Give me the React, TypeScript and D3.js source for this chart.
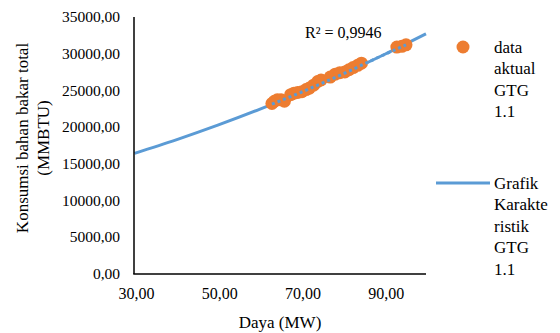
import React from "react";
import * as d3 from "d3";

// Actual data GTG 1.1
const dayaAktual = [63.0, 63.6, 64.3, 65.2, 66.0, 67.5, 68.3, 69.2, 70.2, 71.2, 72.0, 73.0, 74.0, 74.8, 77.0, 78.2, 79.3, 80.5, 81.5, 82.5, 83.6, 84.5, 93.0, 94.2, 95.2];
const konsumsiAktual = [23200, 23500, 23700, 23700, 23500, 24400, 24600, 24700, 24800, 25100, 25300, 25700, 26200, 26400, 26800, 27200, 27400, 27500, 27800, 28100, 28400, 28700, 30900, 31000, 31200];

// Characteristic curve GTG 1.1
const karakteristikDaya = [30, 40, 50, 60, 70, 80, 90, 100];
const karakteristikKonsumsi = [16400, 18240, 20240, 22400, 24730, 27220, 29880, 32700];

// Trendline over actual data range
const trendDaya = [63.0, 70, 80, 90, 95.2];
const trendKonsumsi = [23100, 24730, 27220, 29880, 31200];

const xTicks = [30, 50, 70, 90];
const yTicks = [0, 5000, 10000, 15000, 20000, 25000, 30000, 35000];

const fmt = (v: number) => v.toFixed(2).replace(".", ",");

const W = 560;
const H = 333;
const font = '"Liberation Serif", "DejaVu Serif", "Times New Roman", serif';
const orange = "#ED7D31";
const blue = "#5B9BD5";

export default function App() {
  const x = d3.scaleLinear().domain([30, 100]).range([134.5, 426]);
  const y = d3.scaleLinear().domain([0, 35000]).range([273.5, 17]);

  const line = d3
    .line<[number, number]>()
    .x((d) => x(d[0]))
    .y((d) => y(d[1]))
    .curve(d3.curveMonotoneX);

  const karPts: [number, number][] = karakteristikDaya.map((d, i) => [d, karakteristikKonsumsi[i]]);
  const trendPts: [number, number][] = trendDaya.map((d, i) => [d, trendKonsumsi[i]]);
  const ts = { fontFamily: font };

  return (
    <svg
      width={W}
      height={H}
      style={{ position: "absolute", left: 0, top: 0, background: "#fff", fontFamily: font }}
    >
      {/* Characteristic line */}
      <path d={line(karPts) || ""} fill="none" stroke={blue} strokeWidth={3} />
      {/* Actual data points */}
      {dayaAktual.map((d, i) => (
        <circle key={i} cx={x(d)} cy={y(konsumsiAktual[i])} r={6.5} fill={orange} />
      ))}
      {/* Trendline dotted */}
      <path d={line(trendPts) || ""} fill="none" stroke={blue} strokeWidth={3} strokeDasharray="3,3" />

      {/* Axes */}
      <line x1={134} x2={134} y1={17} y2={274} stroke="#000" strokeWidth={1.5} />
      <line x1={133.25} x2={426} y1={274} y2={274} stroke="#000" strokeWidth={1.5} />

      {yTicks.map((t) => (
        <text key={t} style={ts} x={120} y={y(t)} dy="0.35em" textAnchor="end" fontSize={15.5} fill="#000">
          {fmt(t)}
        </text>
      ))}
      {xTicks.map((t) => (
        <text key={t} style={ts} x={x(t) + 2} y={293} dy="0.35em" textAnchor="middle" fontSize={16} fill="#000">
          {fmt(t)}
        </text>
      ))}

      <text style={ts} x={280} y={322} dy="0.35em" textAnchor="middle" fontSize={17} fill="#000">
        Daya (MW)
      </text>
      <g transform="translate(22,138) rotate(-90)">
        <text style={ts} x={0} y={0} dy="0.35em" textAnchor="middle" fontSize={17} fill="#000">
          Konsumsi bahan bakar total
        </text>
        <text style={ts} x={0} y={21} dy="0.35em" textAnchor="middle" fontSize={17} fill="#000">
          (MMBTU)
        </text>
      </g>

      <text style={ts} x={305} y={32} dy="0.35em" fontSize={16} fill="#000">
        R² = 0,9946
      </text>

      {/* Legend */}
      <circle cx={463} cy={47} r={6.5} fill={orange} />
      {["data", "aktual", "GTG", "1.1"].map((s, i) => (
        <text key={s} style={ts} x={494} y={47 + i * 21.3} dy="0.35em" fontSize={17} fill="#000">
          {s}
        </text>
      ))}
      <line x1={436} x2={490} y1={183} y2={183} stroke={blue} strokeWidth={3} />
      {["Grafik", "Karakte", "ristik", "GTG", "1.1"].map((s, i) => (
        <text key={s} style={ts} x={494} y={183 + i * 21.5} dy="0.35em" fontSize={17} fill="#000">
          {s}
        </text>
      ))}
    </svg>
  );
}
